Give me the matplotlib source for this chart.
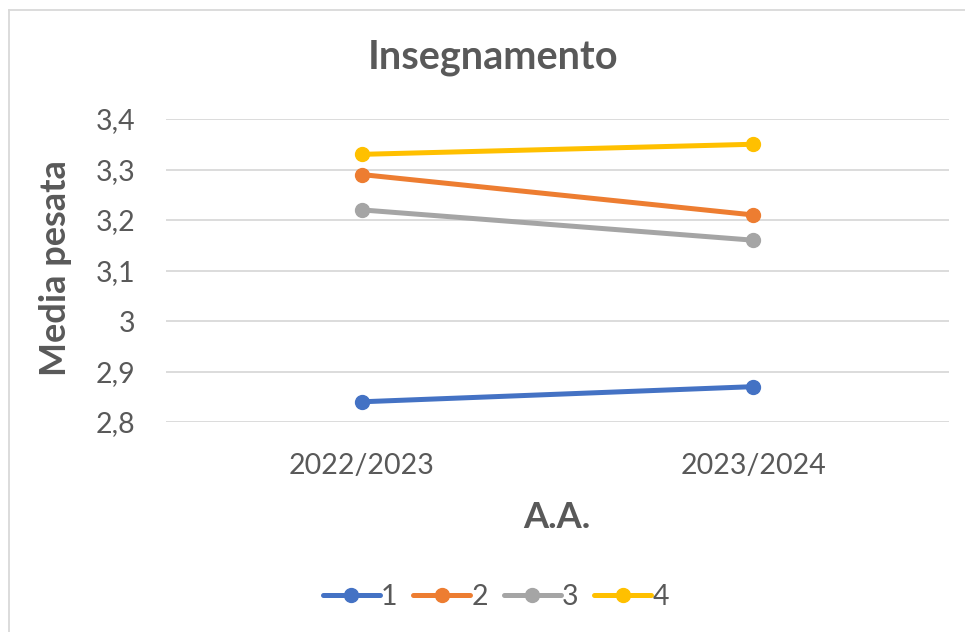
import matplotlib
matplotlib.use("Agg")
import matplotlib.pyplot as plt
from matplotlib.lines import Line2D

categories = ["2022/2023", "2023/2024"]
series_names = ["1", "2", "3", "4"]
s1 = [2.84, 2.87]
s2 = [3.29, 3.21]
s3 = [3.22, 3.16]
s4 = [3.33, 3.35]
yticks = [2.8, 2.9, 3.0, 3.1, 3.2, 3.3, 3.4]
ytick_labels = ["2,8", "2,9", "3", "3,1", "3,2", "3,3", "3,4"]
colors = ["#4472C4", "#ED7D31", "#A5A5A5", "#FFC000"]

plt.rcParams['font.family'] = ['Lato', 'DejaVu Sans']
txt = "#595959"

W, H = 965, 632
fig = plt.figure(figsize=(W/100, H/100), dpi=100)
ax = fig.add_axes([166/W, 1-422/H, (949-166)/W, (422-119)/H])

x = list(range(len(categories)))
for name, vals, c in zip(series_names, [s1, s2, s3, s4], colors):
    ax.plot(x, vals, color=c, lw=3.6, marker='o', ms=10, solid_capstyle='round', label=name, zorder=3)

ax.set_xlim(-0.5, 1.5)
ax.set_ylim(2.8, 3.4)
ax.set_yticks(yticks)
ax.set_yticklabels(ytick_labels)
ax.set_xticks(x)
ax.set_xticklabels(categories)
ax.grid(axis='y', color='#D9D9D9', lw=1.3, zorder=0)
for sp in ax.spines.values():
    sp.set_visible(False)
ax.tick_params(axis='both', length=0, colors=txt, labelsize=20.5)
ax.tick_params(axis='y', pad=22)
ax.tick_params(axis='x', pad=22)

fig.text(493/W, 1-58/H, "Insegnamento", ha='center', va='center', fontsize=28.5, fontweight='bold', color=txt)
fig.text(56/W, 1-268/H, "Media pesata", ha='center', va='center', rotation=90, fontsize=26, fontweight='bold', color=txt)
fig.text(557/W, 1-518/H, "A.A.", ha='center', va='center', fontsize=26, fontweight='bold', color=txt)

handles = [Line2D([0], [0], color=c, lw=3.6, marker='o', ms=10, solid_capstyle='round') for c in colors]
fig.legend(handles, series_names, loc='center', bbox_to_anchor=(496/W, 1-597/H), ncol=4, frameon=False,
           fontsize=20.5, labelcolor=txt, handlelength=2.0, handletextpad=0.05, columnspacing=0.55)

# chart border
fig.add_artist(Line2D([9/W, 1], [1-10/H, 1-10/H], color='#D9D9D9', lw=1.3, transform=fig.transFigure))
fig.add_artist(Line2D([9/W, 9/W], [0, 1-10/H], color='#D9D9D9', lw=1.3, transform=fig.transFigure))

fig.savefig("out.png", dpi=100, facecolor='white')
